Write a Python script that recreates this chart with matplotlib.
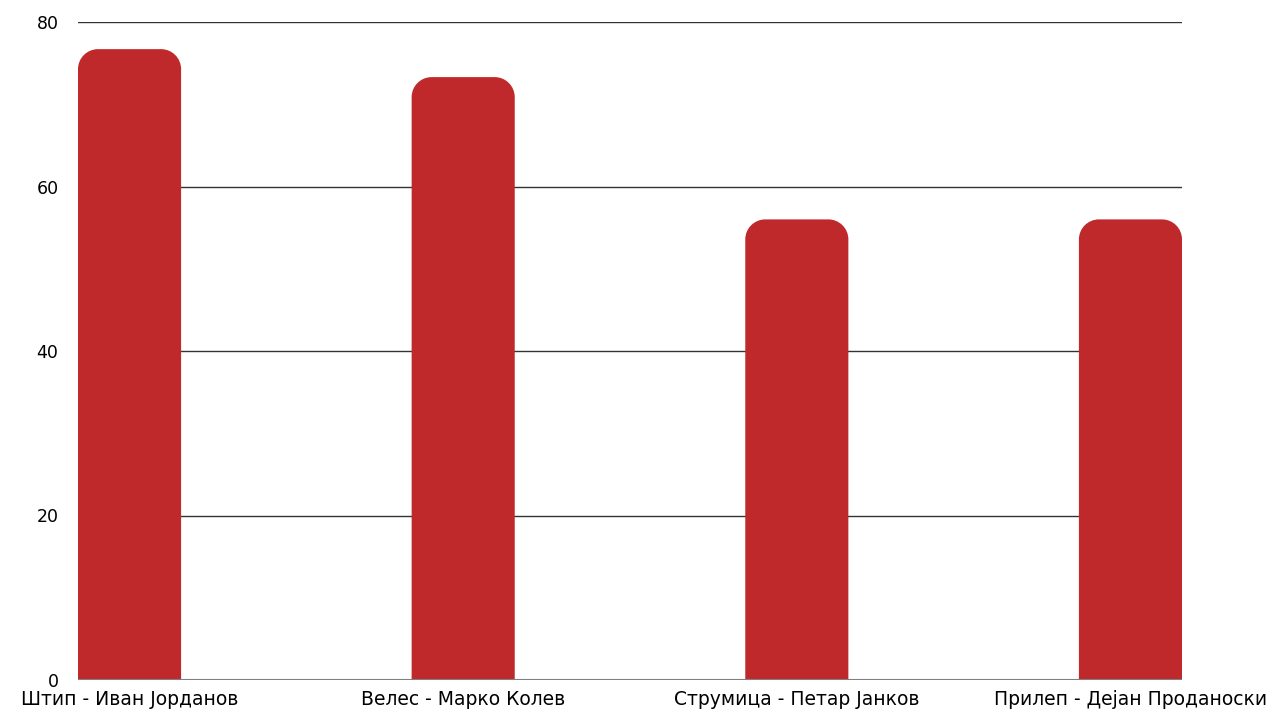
import matplotlib.pyplot as plt
from matplotlib.path import Path
from matplotlib.patches import PathPatch

plt.rcParams['font.family'] = 'DejaVu Sans'

cities = ['Штип - Иван Јорданов', 'Велес - Марко Колев',
          'Струмица - Петар Јанков', 'Прилеп - Дејан Проданоски']
values = [76.7, 73.3, 56, 56]

bar_color = '#c0292b'
width = 0.309

fig = plt.figure(figsize=(12.76, 7.10), dpi=100)
ax = fig.add_axes([78/1276, 30/710, 1104/1276, 658/710])

ax.set_xlim(-width/2, len(cities) - 1 + width/2)
ax.set_ylim(0, 80)

# pixel -> data radius for the rounded tops
r_px = 20
ppx = 1104 / (ax.get_xlim()[1] - ax.get_xlim()[0])
ppy = 658 / 80
rx = r_px / ppx
ry = r_px / ppy

for i, v in enumerate(values):
    x0 = i - width/2
    x1 = i + width/2
    k = 0.5523
    verts = [(x0, 0), (x0, v - ry),
             (x0, v - ry + k*ry), (x0 + rx - k*rx, v), (x0 + rx, v),
             (x1 - rx, v),
             (x1 - rx + k*rx, v), (x1, v - ry + k*ry), (x1, v - ry),
             (x1, 0), (x0, 0)]
    codes = [Path.MOVETO, Path.LINETO,
             Path.CURVE4, Path.CURVE4, Path.CURVE4,
             Path.LINETO,
             Path.CURVE4, Path.CURVE4, Path.CURVE4,
             Path.LINETO, Path.CLOSEPOLY]
    ax.add_patch(PathPatch(Path(verts, codes), facecolor=bar_color,
                           edgecolor='none', zorder=2))

for g in [20, 40, 60, 80]:
    ax.axhline(g, color='#333333', lw=1, zorder=1)
ax.axhline(0, color='#808080', lw=1.5, zorder=3)

for s in ax.spines.values():
    s.set_visible(False)

ax.set_yticks([0, 20, 40, 60, 80])
ax.tick_params(axis='y', length=0, pad=14, labelsize=12.5)
ax.set_xticks(range(len(cities)))
ax.set_xticklabels(cities)
ax.tick_params(axis='x', length=0, pad=7, labelsize=13.5)

plt.savefig('out.png', dpi=100)
